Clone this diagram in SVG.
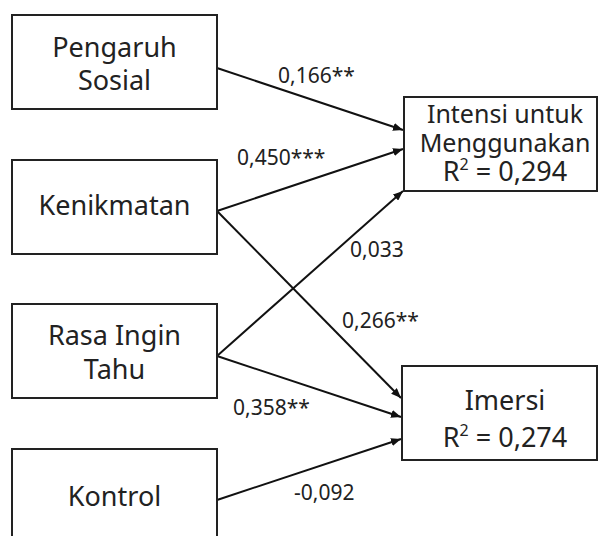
<svg xmlns="http://www.w3.org/2000/svg" width="598" height="536" viewBox="0 0 598 536">
<style>
.box{fill:#fff;stroke:#222;stroke-width:2}
.t{font-family:"Noto Sans","Open Sans",sans-serif;font-size:27px;fill:#222;text-anchor:middle}
.s{font-size:25px}
.l{font-family:"Noto Sans","Open Sans",sans-serif;font-size:21px;fill:#222}
.c{stroke:#111;stroke-width:2;fill:none;marker-end:url(#ah)}
</style>
<defs>
<marker id="ah" viewBox="0 0 10 8" refX="10" refY="4" markerWidth="10" markerHeight="8" markerUnits="userSpaceOnUse" orient="auto">
<path d="M0,0 L10,4 L0,8 Z" fill="#111"/>
</marker>
</defs>
<rect width="598" height="536" fill="#fff"/>
<g id="connectors">
<line class="c" x1="217" y1="68" x2="403" y2="130"/>
<line class="c" x1="217" y1="211" x2="403" y2="149"/>
<line class="c" x1="217" y1="211" x2="401" y2="398"/>
<line class="c" x1="217" y1="356" x2="403" y2="191"/>
<line class="c" x1="217" y1="356" x2="401" y2="417"/>
<line class="c" x1="217" y1="500" x2="401" y2="439"/>
<text class="l" x="278" y="83">0,166**</text>
<text class="l" x="237" y="165">0,450***</text>
<text class="l" x="350" y="257">0,033</text>
<text class="l" x="342" y="328">0,266**</text>
<text class="l" x="233" y="415">0,358**</text>
<text class="l" x="294" y="500">-0,092</text>
</g>
<g id="pengaruh-sosial">
<rect class="box" x="12" y="15" width="205" height="94"/>
<text class="t" x="114.5" y="57">Pengaruh<tspan x="114.5" dy="33">Sosial</tspan></text>
</g>
<g id="kenikmatan">
<rect class="box" x="12" y="160" width="205" height="94"/>
<text class="t" x="114.5" y="215">Kenikmatan</text>
</g>
<g id="rasa-ingin-tahu">
<rect class="box" x="12" y="304" width="205" height="94"/>
<text class="t" x="114.5" y="345">Rasa Ingin<tspan x="114.5" dy="34">Tahu</tspan></text>
</g>
<g id="kontrol">
<rect class="box" x="12" y="449" width="205" height="94"/>
<text class="t" x="114.5" y="506">Kontrol</text>
</g>
<g id="intensi">
<rect class="box" x="404" y="97" width="193" height="94"/>
<text class="t" x="505" y="123"><tspan class="s">Intensi untuk</tspan><tspan class="s" x="505" dy="29">Menggunakan</tspan><tspan x="505" dy="29">R</tspan><tspan font-size="16" dy="-11">2</tspan><tspan dy="11"> = 0,294</tspan></text>
</g>
<g id="imersi">
<rect class="box" x="402" y="366" width="195" height="94"/>
<text class="t" x="505" y="410">Imersi<tspan x="505" dy="37">R</tspan><tspan font-size="16" dy="-11">2</tspan><tspan dy="11"> = 0,274</tspan></text>
</g>
</svg>
